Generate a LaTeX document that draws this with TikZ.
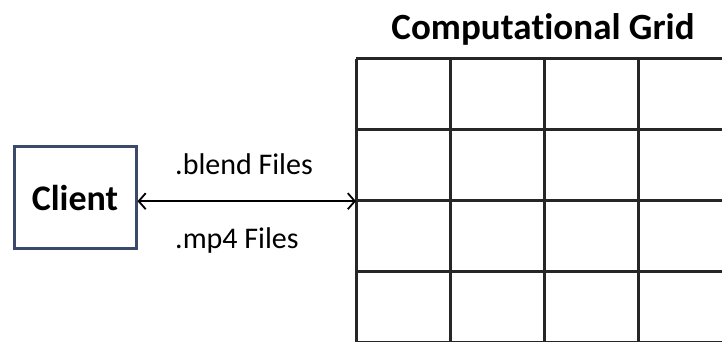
\documentclass[tikz,border=0pt]{standalone}
\usepackage{fontspec}
\setmainfont{Carlito}[Ligatures=NoCommon]
\usetikzlibrary{arrows.meta,positioning}
\definecolor{boxblue}{HTML}{3B4A6B}
\tikzset{
  clientbox/.style={draw=boxblue, line width=3pt, minimum width=122pt, minimum height=102pt, font=\fontsize{36}{38}\selectfont\bfseries},
  cellline/.style={draw=black!85, line width=3pt},
  filelabel/.style={anchor=west, inner sep=0pt, font=\fontsize{30}{32}\selectfont}
}
\begin{document}
\begin{tikzpicture}[x=1pt, y=1pt]
\useasboundingbox (0,0) rectangle (722,342);
\clip (0,0) rectangle (722,342);
% grid
\node [minimum width=376pt, minimum height=284pt, inner sep=0pt, anchor=north west] (grid) at (356,283) {};
\foreach \i in {0,...,4}
  \draw [cellline] (356+94*\i,283) -- (356+94*\i,-1);
\foreach \j in {0,...,4}
  \draw [cellline] (356,283-71*\j) -- (732,283-71*\j);
\node [font=\fontsize{37}{39}\selectfont\bfseries] (title) at (543,313) {Computa\kern0pt tional Grid};
% client
\node [clientbox] (client) at (75,144) {Client};
\draw [{Straight Barb[length=7pt,width=16pt]}-{Straight Barb[length=7pt,width=16pt]}, line width=1.8pt] (client.east |- grid.west) -- (grid.west);
\node [filelabel] (blend) at (175,178) {.blend Files};
\node [filelabel] (mp4) at (175,101) {.mp4 Files};
\end{tikzpicture}
\end{document}
